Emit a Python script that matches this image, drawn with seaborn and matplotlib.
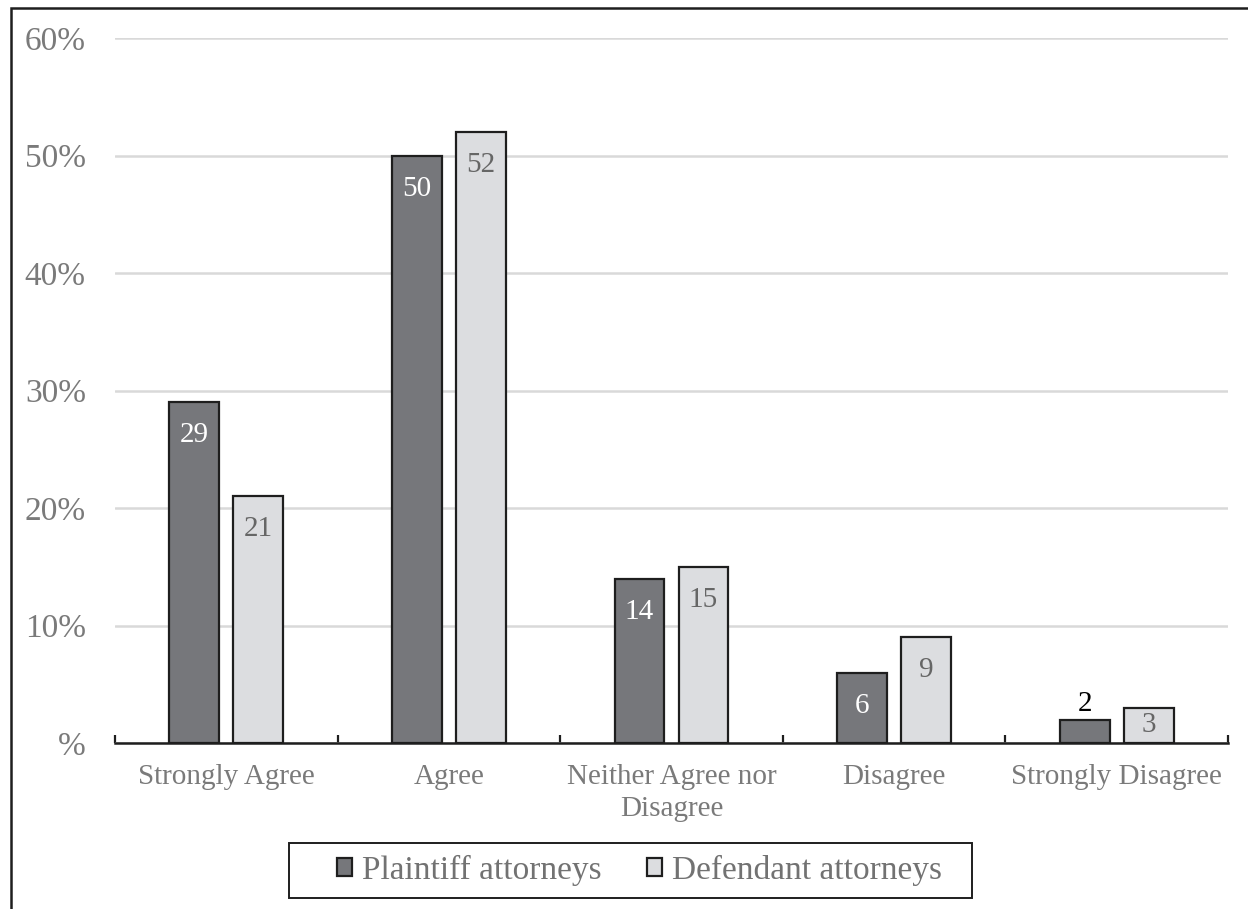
import matplotlib
matplotlib.use("Agg")
import matplotlib.pyplot as plt
from matplotlib.patches import Rectangle
import seaborn as sns
import pandas as pd

# Survey responses (% of respondents)
categories = ["Strongly Agree", "Agree", "Neither Agree nor\nDisagree", "Disagree", "Strongly Disagree"]
groups = ["Plaintiff attorneys", "Defendant attorneys"]
plaintiff = [29, 50, 14, 6, 2]
defendant = [21, 52, 15, 9, 3]
y_ticks = [0, 10, 20, 30, 40, 50, 60]
y_tick_labels = ["%", "10%", "20%", "30%", "40%", "50%", "60%"]

df = pd.DataFrame({
    "category": categories * 2,
    "group": [groups[0]] * len(categories) + [groups[1]] * len(categories),
    "value": plaintiff + defendant,
})

sns.set_theme(style="white")
plt.rcParams["font.family"] = ["Liberation Serif", "DejaVu Serif"]

fig = plt.figure(figsize=(12.48, 9.09), dpi=100)
ax = fig.add_axes([115 / 1248, 1 - 743 / 909, (1228 - 115) / 1248, (743 - 38) / 909])

palette = {groups[0]: "#76777b", groups[1]: "#dcdde0"}
sns.barplot(data=df, x="category", y="value", hue="group", order=categories,
            hue_order=groups, palette=palette, width=0.575, gap=0.22,
            edgecolor="#1e1e1e", linewidth=1.6, saturation=1, ax=ax,
            legend=True, zorder=3)

ax.set_xlim(-0.5, len(categories) - 0.5)
ax.set_ylim(0, 60)
ax.set_xlabel("")
ax.set_ylabel("")

# Gridlines
ax.set_yticks(y_ticks)
ax.set_yticklabels(y_tick_labels, fontsize=24, color="#7a7a7a")
ax.yaxis.grid(True, color="#d9d9d9", linewidth=1.8, zorder=0)
ax.set_axisbelow(True)
ax.tick_params(axis="y", length=0, pad=21)

# Category boundary ticks on the baseline
ax.set_xticks([i - 0.5 for i in range(len(categories) + 1)], minor=True)
ax.set_xticks(range(len(categories)))
ax.set_xticklabels(categories, fontsize=21, color="#7a7a7a", linespacing=1.3)
ax.tick_params(axis="x", which="major", length=0, pad=15)
ax.tick_params(axis="x", which="minor", direction="in", length=6, width=1.6,
               color="#1e1e1e", bottom=True)

for side in ["left", "right", "top"]:
    ax.spines[side].set_visible(False)
ax.spines["bottom"].set_color("#1e1e1e")
ax.spines["bottom"].set_linewidth(1.8)
ax.spines["bottom"].set_zorder(5)

# Value labels near the top of each bar
inset = 2.81  # label centre offset below bar top, in data units
for container, color in zip(ax.containers, ["white", "#666666"]):
    for bar in container:
        h = bar.get_height()
        x = bar.get_x() + bar.get_width() / 2
        label = f"{h:.0f}"
        if h < 2.5:
            ax.text(x, h + 0.2, label, ha="center", va="bottom", fontsize=21,
                    color="black", zorder=6)
        else:
            yc = h - min(inset, h / 2)
            ax.text(x, yc, label, ha="center", va="center", fontsize=21,
                    color=color, zorder=6)

# Legend below the plot, inside its own box
ax.get_legend().remove()
handles = [Rectangle((0, 0), 1, 1, facecolor=palette[g], edgecolor="#1e1e1e", linewidth=1.6)
           for g in groups]
leg = fig.legend(handles, groups, loc="center left", bbox_to_anchor=(337 / 1248, 1 - 870 / 909),
                 ncol=2, fontsize=24, frameon=False, handlelength=0.45,
                 handleheight=0.45, handletextpad=0.3, columnspacing=1.35,
                 borderpad=0, borderaxespad=0, labelcolor="#727272")
fig.add_artist(Rectangle((289 / 1248, 1 - 898 / 909), (972 - 289) / 1248, 55 / 909,
                         transform=fig.transFigure, fill=False,
                         edgecolor="#1e1e1e", linewidth=1.4))

# Outer frame
fig.add_artist(Rectangle((11 / 1248, -0.1), 1.2, 1 - 8 / 909 + 0.1, transform=fig.transFigure,
                         fill=False, edgecolor="#1e1e1e", linewidth=1.8))

fig.savefig("out.png", dpi=100)
